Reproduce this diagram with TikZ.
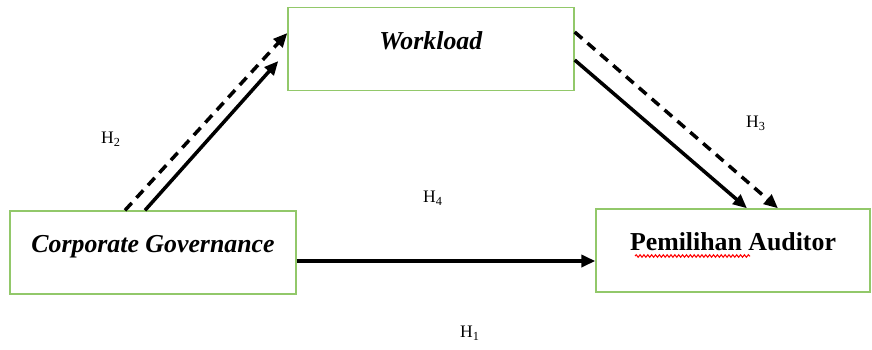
\documentclass[tikz,border=0pt]{standalone}
\usepackage{fontspec}
\setmainfont{Liberation Serif}
\usepackage{tikz}
\usetikzlibrary{positioning,arrows.meta,calc,decorations.pathmorphing}
\definecolor{boxgreen}{RGB}{146,200,106}

\begin{document}
\begin{tikzpicture}[
  x=0.02cm, y=-0.02cm,
  varbox/.style={draw=boxgreen, line width=0.8pt, minimum width=5.72cm,
                 minimum height=1.66cm, inner sep=0pt,
                 text height=0.38cm, text depth=0.38cm,
                 font=\fontsize{14.7}{17}\selectfont},
  hlabel/.style={font=\fontsize{10}{12}\selectfont},
  hyparrow/.style={line width=2pt, -{Triangle[length=0.28cm,width=0.24cm]}},
  hypdash/.style={hyparrow, dash pattern=on 0.2cm off 0.14cm}
]
  \useasboundingbox (0,0) rectangle (872,349);

  % --- Variables ---
  \node[varbox] (cg) at (153,252.5) {\textbf{\textit{Corporate Governance}}};
  \node[varbox] (wl) at (431,49)    {\textbf{\textit{Workload}}};
  \node[varbox, minimum width=5.48cm] (pa) at (733,250.5) {\textbf{Pemilihan Auditor}};

  % spell-check squiggle under the first word
  \draw[red, line width=0.6pt, decorate,
        decoration={snake, amplitude=0.7pt, segment length=2.2pt}]
    (635,256) -- (750,256);

  % --- Corporate Governance -> Workload (H2) ---
  \draw[hyparrow] ([xshift=-0.16cm]cg.north) -- ([xshift=-0.18cm,yshift=-0.24cm]wl.west);
  \draw[hypdash]  ([xshift=-0.56cm]cg.north) -- ([yshift=0.32cm]wl.west);

  % --- Workload -> Pemilihan Auditor (H3) ---
  \draw[hyparrow] ([yshift=-0.22cm]wl.east) -- ([xshift=0.28cm]pa.north);
  \draw[hypdash]  ([yshift=0.34cm]wl.east)  -- ([xshift=0.9cm]pa.north);

  % --- Corporate Governance -> Pemilihan Auditor (H1 / H4) ---
  \draw[hyparrow] ([yshift=-0.17cm]cg.east) coordinate (h1s) -- (h1s -| pa.west);

  % --- Hypothesis labels ---
  \node[hlabel] (h2) at (111,139) {H\textsubscript{2}};
  \node[hlabel] (h3) at (756,123) {H\textsubscript{3}};
  \node[hlabel] (h4) at (433,198) {H\textsubscript{4}};
  \node[hlabel] (h1) at (470,333) {H\textsubscript{1}};

\end{tikzpicture}
\end{document}
